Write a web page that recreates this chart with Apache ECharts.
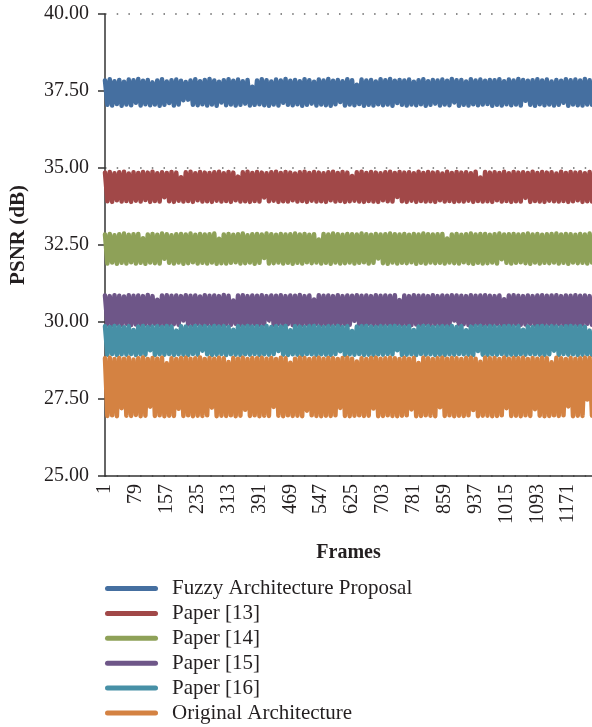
<!DOCTYPE html>
<html>
<head>
<meta charset="utf-8">
<title>PSNR per frame</title>
<script src="https://cdn.jsdelivr.net/npm/echarts@6/dist/echarts.min.js"></script>
<style>
  html, body { margin: 0; padding: 0; background: #ffffff; }
  #chart { width: 592px; height: 727px; }
</style>
</head>
<body>
<div id="chart"></div>
<script>
// PSNR (dB) per frame for each architecture, one value every 6th frame.
const seriesNames = [
  'Fuzzy Architecture Proposal',
  'Paper [13]',
  'Paper [14]',
  'Paper [15]',
  'Paper [16]',
  'Original Architecture'
];

const fuzzyProposal = [
  37.84,37.05,37.88,37.03,37.82,37.08,37.86,37.02,37.80,37.06,
  37.87,37.04,37.85,37.12,37.89,37.03,37.83,37.07,37.86,37.04,
  37.78,37.06,37.84,37.02,37.88,37.05,37.81,37.11,37.85,37.03,
  37.87,37.06,37.83,37.20,37.79,37.22,37.84,37.05,37.88,37.04,
  37.82,37.07,37.86,37.03,37.89,37.06,37.84,37.02,37.80,37.13,
  37.85,37.04,37.88,37.06,37.83,37.03,37.87,37.05,37.82,37.09,
  37.86,37.03,37.64,37.05,37.84,37.07,37.88,37.04,37.85,37.02,
  37.81,37.06,37.87,37.03,37.84,37.12,37.89,37.05,37.83,37.04,
  37.86,37.07,37.82,37.02,37.88,37.05,37.85,37.09,37.80,37.03,
  37.87,37.06,37.84,37.04,37.89,37.02,37.83,37.07,37.86,37.14,
  37.82,37.03,37.88,37.06,37.85,37.04,37.70,37.08,37.87,37.02,
  37.84,37.05,37.86,37.03,37.81,37.07,37.88,37.04,37.85,37.06,
  37.89,37.02,37.83,37.11,37.86,37.05,37.84,37.03,37.87,37.06,
  37.80,37.04,37.85,37.07,37.88,37.02,37.82,37.05,37.86,37.09,
  37.84,37.03,37.87,37.06,37.83,37.04,37.89,37.13,37.85,37.02,
  37.86,37.05,37.81,37.03,37.88,37.07,37.84,37.04,37.87,37.06,
  37.83,37.08,37.86,37.02,37.85,37.05,37.88,37.03,37.82,37.07,
  37.87,37.04,37.84,37.06,37.89,37.03,37.86,37.18,37.83,37.05,
  37.85,37.02,37.88,37.07,37.84,37.04,37.87,37.06,37.81,37.03,
  37.86,37.05,37.83,37.12,37.88,37.02,37.85,37.06,37.87,37.04,
  37.84,37.03,37.89,37.06,37.85,37.05
];

const paper13 = [
  34.85,33.92,34.87,33.90,34.83,33.95,34.86,33.91,34.88,33.93,
  34.82,33.90,34.86,33.94,34.84,33.91,34.87,33.96,34.85,33.90,
  34.88,33.93,34.83,33.91,34.86,34.05,34.84,33.92,34.87,33.90,
  34.85,33.94,34.70,33.91,34.86,33.93,34.88,33.90,34.83,33.95,
  34.87,33.91,34.85,33.92,34.84,33.90,34.86,33.94,34.88,33.91,
  34.83,33.93,34.87,33.90,34.85,33.95,34.72,33.91,34.86,33.92,
  34.88,33.90,34.84,33.93,34.87,33.91,34.85,34.04,34.83,33.92,
  34.86,33.94,34.88,33.90,34.84,33.92,34.87,33.91,34.85,33.95,
  34.82,33.91,34.86,33.93,34.88,33.90,34.84,33.94,34.87,33.91,
  34.85,33.92,34.83,33.90,34.86,33.95,34.88,33.91,34.84,33.93,
  34.87,33.90,34.85,33.92,34.74,33.94,34.86,33.91,34.88,33.90,
  34.84,33.93,34.87,33.91,34.85,33.90,34.83,33.95,34.86,33.92,
  34.88,33.91,34.84,34.06,34.87,33.92,34.85,33.90,34.86,33.94,
  34.83,33.90,34.88,33.93,34.84,33.91,34.87,33.92,34.85,33.90,
  34.86,33.95,34.82,33.91,34.88,33.93,34.84,33.90,34.87,33.92,
  34.85,33.91,34.86,33.94,34.83,33.90,34.88,33.93,34.69,33.91,
  34.87,33.92,34.85,33.90,34.86,33.95,34.84,33.91,34.88,33.93,
  34.83,33.90,34.87,33.92,34.85,33.91,34.86,34.03,34.84,33.90,
  34.88,33.93,34.84,33.91,34.87,33.90,34.85,33.94,34.86,33.92,
  34.82,33.91,34.88,33.93,34.84,33.90,34.87,33.92,34.85,33.95,
  34.86,33.90,34.83,33.92,34.87,33.91
];

const paper14 = [
  32.84,31.90,32.86,31.93,32.82,31.89,32.85,31.92,32.87,31.90,
  32.83,31.94,32.85,31.90,32.86,31.92,32.72,31.89,32.84,31.93,
  32.86,31.91,32.83,31.90,32.87,32.05,32.85,31.92,32.82,31.90,
  32.85,31.93,32.86,31.89,32.84,31.91,32.87,31.94,32.83,31.90,
  32.86,31.92,32.84,31.90,32.85,31.93,32.87,31.89,32.70,31.91,
  32.84,31.90,32.86,31.92,32.83,31.94,32.85,31.90,32.87,31.91,
  32.82,31.93,32.85,31.89,32.86,31.92,32.84,32.08,32.87,31.90,
  32.85,31.91,32.83,31.93,32.86,31.90,32.84,31.92,32.85,31.89,
  32.87,31.92,32.84,31.90,32.86,31.94,32.83,31.91,32.85,31.93,
  32.68,31.90,32.86,31.92,32.84,31.89,32.87,31.93,32.85,31.90,
  32.83,31.91,32.86,31.93,32.85,31.90,32.84,31.92,32.87,31.94,
  32.85,31.90,32.83,31.92,32.86,32.06,32.84,31.91,32.85,31.89,
  32.87,31.93,32.85,31.90,32.84,31.92,32.86,31.91,32.83,31.94,
  32.86,31.89,32.84,31.92,32.87,31.90,32.85,31.93,32.84,31.91,
  32.85,31.92,32.86,31.90,32.71,31.93,32.84,31.91,32.86,31.90,
  32.83,31.94,32.85,31.91,32.87,31.89,32.84,31.92,32.86,31.90,
  32.86,31.91,32.83,31.93,32.85,31.90,32.87,32.04,32.84,31.92,
  32.85,31.90,32.86,31.92,32.84,31.94,32.85,31.91,32.87,31.89,
  32.84,31.93,32.86,31.90,32.83,31.92,32.85,31.91,32.86,31.93,
  32.87,31.90,32.84,31.92,32.86,31.89,32.85,31.93,32.83,31.91,
  32.86,31.92,32.84,31.90,32.87,31.93
];

const paper15 = [
  30.86,29.92,30.84,29.90,30.87,29.93,30.85,29.91,30.83,29.94,
  30.87,29.90,30.85,29.92,30.86,29.91,30.84,29.93,30.88,29.90,
  30.84,29.94,30.72,29.91,30.86,29.92,30.87,29.90,30.85,29.93,
  30.86,29.91,30.84,30.05,30.87,29.92,30.85,29.90,30.86,29.94,
  30.83,29.90,30.87,29.93,30.85,29.91,30.86,29.92,30.84,29.90,
  30.88,29.93,30.85,29.91,30.70,29.94,30.86,29.90,30.87,29.92,
  30.84,29.91,30.86,29.93,30.85,29.90,30.87,29.92,30.84,30.06,
  30.86,29.90,30.85,29.94,30.87,29.91,30.84,29.93,30.86,29.90,
  30.85,29.92,30.88,29.90,30.84,29.93,30.86,29.91,30.73,29.94,
  30.87,29.90,30.85,29.92,30.86,29.91,30.84,29.93,30.87,29.90,
  30.84,29.93,30.86,29.91,30.85,30.04,30.87,29.92,30.85,29.90,
  30.86,29.94,30.84,29.90,30.87,29.92,30.85,29.91,30.86,29.93,
  30.85,29.90,30.87,29.93,30.71,29.91,30.86,29.92,30.84,29.90,
  30.87,29.92,30.85,29.90,30.86,29.94,30.84,29.91,30.87,29.93,
  30.84,29.91,30.86,29.92,30.85,29.90,30.87,30.05,30.86,29.92,
  30.85,29.93,30.84,29.90,30.87,29.91,30.85,29.94,30.86,29.90,
  30.87,29.92,30.85,29.91,30.84,29.93,30.86,29.90,30.74,29.92,
  30.86,29.90,30.87,29.93,30.85,29.91,30.84,29.92,30.86,29.94,
  30.84,29.91,30.86,29.90,30.87,29.92,30.85,29.93,30.86,29.91,
  30.87,29.93,30.84,29.91,30.86,29.90,30.85,29.92,30.87,29.90,
  30.85,29.92,30.86,29.94,30.84,29.91
];

const paper16 = [
  29.86,28.94,29.84,28.96,29.87,28.93,29.85,28.95,29.83,28.94,
  29.86,28.96,29.74,28.93,29.85,28.95,29.87,28.94,29.84,29.08,
  29.85,28.93,29.86,28.95,29.84,28.94,29.87,28.96,29.85,28.93,
  29.72,28.95,29.86,28.94,29.85,28.93,29.84,28.96,29.87,28.94,
  29.85,29.07,29.86,28.95,29.84,28.93,29.87,28.94,29.85,28.96,
  29.86,28.93,29.84,28.95,29.75,28.94,29.86,28.93,29.85,28.95,
  29.87,28.94,29.85,28.96,29.86,28.93,29.84,28.95,29.87,28.94,
  29.84,28.96,29.86,29.06,29.85,28.94,29.87,28.93,29.73,28.95,
  29.86,28.94,29.85,28.93,29.84,28.96,29.86,28.95,29.87,28.93,
  29.85,28.95,29.84,28.94,29.86,28.93,29.85,28.96,29.87,29.05,
  29.84,28.93,29.86,28.95,29.71,28.94,29.85,28.96,29.86,28.93,
  29.87,28.94,29.85,28.93,29.84,28.95,29.86,28.94,29.85,28.96,
  29.86,28.95,29.87,29.08,29.85,28.93,29.84,28.94,29.86,28.95,
  29.74,28.93,29.85,28.96,29.87,28.94,29.86,28.95,29.84,28.93,
  29.85,28.94,29.86,28.93,29.85,28.95,29.87,28.94,29.84,28.96,
  29.86,28.95,29.73,28.94,29.85,28.93,29.86,29.06,29.87,28.94,
  29.84,28.93,29.86,28.95,29.85,28.94,29.84,28.96,29.86,28.93,
  29.87,28.94,29.85,28.93,29.86,28.95,29.75,28.94,29.85,28.96,
  29.84,28.95,29.86,28.94,29.87,28.93,29.85,28.95,29.86,29.07,
  29.85,28.93,29.84,28.96,29.86,28.94,29.87,28.95,29.85,28.93,
  29.86,28.94,29.84,28.95,29.72,28.93
];

const originalArchitecture = [
  28.82,26.95,28.84,26.97,28.80,26.94,28.83,27.20,28.81,26.96,
  28.84,26.95,28.78,26.98,28.82,26.94,28.85,26.96,28.80,27.25,
  28.83,26.95,28.81,26.97,28.84,26.94,28.66,26.96,28.82,26.95,
  28.80,27.18,28.83,26.95,28.84,26.97,28.81,26.94,28.82,26.96,
  28.85,26.95,28.80,26.97,28.83,27.22,28.81,26.94,28.84,26.96,
  28.82,26.95,28.70,26.97,28.83,26.94,28.81,26.96,28.84,27.15,
  28.80,26.95,28.83,26.97,28.82,26.94,28.84,26.96,28.81,26.95,
  28.83,27.24,28.80,26.96,28.84,26.94,28.82,26.97,28.68,26.95,
  28.81,26.96,28.84,26.94,28.83,27.12,28.80,26.97,28.82,26.95,
  28.84,26.94,28.81,26.96,28.83,26.95,28.82,26.97,28.80,27.21,
  28.83,26.95,28.84,26.94,28.81,26.96,28.72,26.97,28.82,26.95,
  28.80,26.96,28.83,27.19,28.84,26.94,28.81,26.95,28.82,26.97,
  28.84,26.95,28.82,26.94,28.80,26.96,28.83,26.97,28.81,27.16,
  28.83,26.94,28.67,26.95,28.84,26.97,28.82,26.96,28.80,26.94,
  28.82,27.23,28.84,26.95,28.81,26.97,28.83,26.94,28.82,26.96,
  28.80,26.95,28.83,26.97,28.84,27.14,28.81,26.94,28.71,26.96,
  28.84,26.96,28.82,26.94,28.83,26.95,28.80,26.97,28.84,27.20,
  28.81,26.95,28.83,26.96,28.82,26.94,28.84,26.97,28.80,26.95,
  28.83,27.17,28.81,26.96,28.84,26.94,28.82,26.95,28.69,26.97,
  28.84,26.95,28.82,26.97,28.80,27.26,28.83,26.94,28.81,26.96,
  28.82,26.95,28.84,27.48,28.83,26.96
];

const seriesValues = [fuzzyProposal, paper13, paper14, paper15, paper16, originalArchitecture];
const seriesColors = ['#456fa0', '#a14848', '#8ea158', '#6e5688', '#4790a6', '#d48242'];

// Frame numbers on the category axis: one sample every 6 frames, starting at frame 1.
const frameStep = 6;
const frames = fuzzyProposal.map((_, i) => String(1 + i * frameStep));

const serif = "'Liberation Serif', 'DejaVu Serif', serif";
const ink = '#231f20';
const axisInk = '#333333';

// Rounded bar used as the legend key.
const capsule = 'path://M2.5,0 L50.5,0 A2.5,2.5 0 0 1 50.5,5 L2.5,5 A2.5,2.5 0 0 1 2.5,0 Z';

const chart = echarts.init(document.getElementById('chart'), null, { renderer: 'canvas' });

chart.setOption({
  animation: false,
  backgroundColor: '#ffffff',
  grid: { left: 105, right: 0, top: 14, bottom: 251, containLabel: false, outerBoundsMode: 'none' },
  legend: {
    orient: 'vertical',
    left: 105,
    top: 578,
    height: 150,
    padding: 0,
    itemWidth: 53,
    itemHeight: 5,
    itemGap: 3.9,
    icon: capsule,
    itemStyle: { borderWidth: 0 },
    textStyle: {
      fontFamily: serif,
      fontSize: 21,
      lineHeight: 20,
      color: ink,
      padding: [0, 0, 0, 9]
    },
    data: seriesNames
  },
  xAxis: {
    type: 'category',
    data: frames,
    boundaryGap: false,
    axisLine: { show: true, lineStyle: { color: axisInk, width: 1.5 } },
    axisTick: { show: false },
    axisLabel: {
      interval: 12,
      rotate: 90,
      margin: 8,
      fontFamily: serif,
      fontSize: 20,
      color: ink
    },
    splitLine: { show: false },
    name: 'Frames',
    nameLocation: 'middle',
    nameGap: 67,
    nameTextStyle: { fontFamily: serif, fontSize: 20, fontWeight: 'bold', color: ink }
  },
  yAxis: {
    type: 'value',
    min: 25,
    max: 40,
    interval: 2.5,
    axisLine: { show: true, lineStyle: { color: axisInk, width: 1.5 } },
    axisTick: { show: true, inside: false, length: 7, lineStyle: { color: axisInk, width: 1.5 } },
    axisLabel: {
      margin: 16,
      fontFamily: serif,
      fontSize: 20,
      color: ink,
      formatter: v => v.toFixed(2)
    },
    splitLine: { show: true, lineStyle: { type: [1.5, 10.2], color: '#666666', width: 1.5 } },
    name: 'PSNR (dB)',
    nameLocation: 'middle',
    nameGap: 76,
    nameTextStyle: { fontFamily: serif, fontSize: 21, fontWeight: 'bold', color: ink, padding: [0, 0, 0, 20] }
  },
  series: seriesNames.map((name, k) => ({
    name,
    type: 'line',
    data: seriesValues[k],
    showSymbol: false,
    symbol: 'none',
    silent: true,
    color: seriesColors[k],
    lineStyle: { width: 4.5, color: seriesColors[k], join: 'round', cap: 'round' }
  }))
});
</script>
</body>
</html>
